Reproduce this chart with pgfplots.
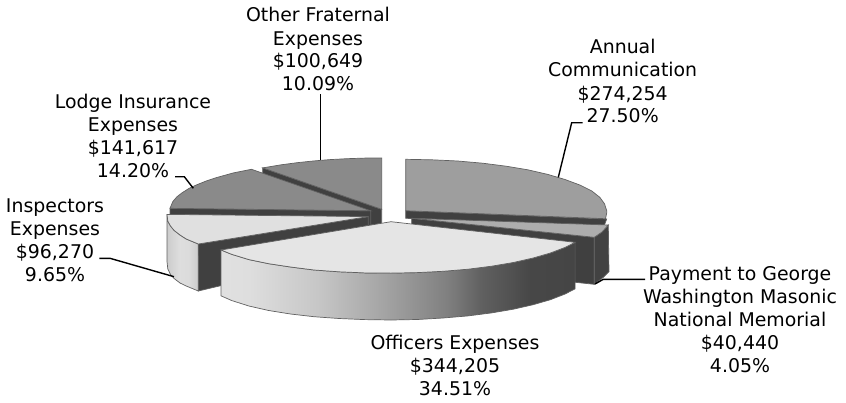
\documentclass[border=0pt]{standalone}
\usepackage{pgfplots}
\pgfplotsset{compat=1.18}
\usepackage{fontspec}
\setmainfont{DejaVu Sans}
% Horizontal ramps for the curved outer walls of the pie
\pgfdeclarehorizontalshading{officerswall}{100bp}{
  color(0bp)=(black!12); color(25bp)=(black!12); color(29bp)=(black!13);
  color(38.6bp)=(black!22); color(47.5bp)=(black!35); color(52bp)=(black!42);
  color(57bp)=(black!50); color(61.6bp)=(black!62); color(68.6bp)=(black!72);
  color(75bp)=(black!73); color(100bp)=(black!73)}
\pgfdeclarehorizontalshading{inspectorswall}{100bp}{
  color(0bp)=(black!20); color(25bp)=(black!20); color(45bp)=(black!13);
  color(60bp)=(black!14); color(75bp)=(black!20); color(100bp)=(black!20)}
\definecolor{edge}{gray}{0.38}
\definecolor{cutface}{gray}{0.25}
\tikzset{lbl/.style={anchor=base,inner sep=0pt,font=\fontsize{18.9}{22}\selectfont,text=black}}
\pgfplotsset{
  slice/.style={draw=edge,line width=0.7pt,mark=none},
  leader/.style={draw=black,line width=1.4pt,mark=none,line join=miter}
}
\begin{document}
\begin{tikzpicture}
\begin{axis}[
  scale only axis,width=846pt,height=402pt,
  xmin=0,xmax=846,ymin=0,ymax=402,y dir=reverse,
  hide axis,clip=false]

% Keep the full plotting area as the picture's extent
\path (axis cs:0,0) rectangle (axis cs:846,402);

% Other Fraternal Expenses
\addplot[slice,fill=cutface] coordinates {(262.7,167.9)(262.7,214)(381.7,255.8)(381.7,209.3)} --cycle;
\addplot[slice,fill=black!46] coordinates {(262.7,167.9)(281.2,164.8)(297,162.7)(313,161.0)(330,159.6)(346.7,158.7)(364,158.1)(381.7,158)(381.7,209.3)} --cycle;

% Lodge Insurance Expenses
\addplot[slice,fill=cutface] coordinates {(170,208.3)(170,254.8)(370.8,257.3)(370.8,210.8)} --cycle;
\addplot[slice,fill=black!46] coordinates {(170,208.3)(172.8,201.6)(176.7,197)(181.9,192.9)(188.7,188.6)(196.7,184.8)(206.2,181)(216.8,177.5)(233,173)(251.5,169.3)(370.8,210.8)} --cycle;

% Annual Communication
\addplot[slice,fill=cutface] coordinates {(405.7,210.7)(405.7,218.3)(604,226)(606.7,219)} --cycle;
\addplot[slice,fill=black!38] coordinates {(405.7,159.3)(431.9,159.8)(457.7,161)(482.7,163.2)(506.2,166.2)(527.8,169.8)(547.8,174.4)(565,179.5)(579.8,185)(591.8,191)(599.9,197.4)(604.5,203.8)(606.7,210.7)(606.7,213)(605.5,218.7)(405.7,210.7)} --cycle;

% Payment to George Washington Masonic National Memorial
\addplot[slice,fill=cutface] coordinates {(411.7,218.3)(411.7,265)(594.3,284.3)(594.3,237.3)} --cycle;
\addplot[slice,fill=black!74] coordinates {(594.3,237.3)(594.3,284.3)(603,277.5)(609,271.7)(608.3,225)(602,232)} --cycle;
\addplot[slice,fill=black!32] coordinates {(411.7,218.3)(608.3,225)(602,232)(594.3,237.3)} --cycle;

% Inspectors Expenses
\addplot[slice,fill=cutface] coordinates {(198.3,244)(198.3,291)(221.5,285.5)(368.3,261)(368.3,216.6)} --cycle;
\addplot[slice,shading=inspectorswall,shade] coordinates {(167,214.4)(167.8,221.1)(170.5,226)(174.1,230.4)(180,235)(186.2,239)(198.3,244)(198.3,291)(186.2,286)(180,283)(174.1,278.5)(170.5,274.5)(167.8,269)(167,261.4)} --cycle;
\addplot[slice,fill=black!12] coordinates {(167,214.4)(167.8,221.1)(170.5,226)(174.1,230.4)(180,235)(186.2,239)(198.3,244)(368.3,216.6)} --cycle;

% Officers Expenses
\addplot[slice,shading=officerswall,shade] coordinates {(575.1,242.3)(565.1,247.4)(550.4,253)(533.1,258)(513.3,262.5)(491.5,266.2)(468,269.2)(443,271.3)(417.2,272.6)(391,273.1)(364.8,272.9)(339,271.8)(314,270)(290.5,267)(268.7,263.7)(248.9,259.6)(231.6,254.3)(221,250)
  (221,295.8)(231.6,300.5)(248.9,306)(268.7,310.5)(290.5,314)(314,316.7)(339,318.5)(364.8,319.6)(391,320)(417.2,319.5)(443,318)(468,315.9)(491.5,312.9)(513.3,309.2)(533.1,304.7)(550.4,299.7)(565.1,294)(575.1,288.8)} --cycle;
\addplot[slice,fill=black!10] coordinates {(391,221.7)(575.1,242.3)(565.1,247.4)(550.4,253)(533.1,258)(513.3,262.5)(491.5,266.2)(468,269.2)(443,271.3)(417.2,272.6)(391,273.1)(364.8,272.9)(339,271.8)(314,270)(290.5,267)(268.7,263.7)(248.9,259.6)(231.6,254.3)(221,250)} --cycle;

% Leader lines
\addplot[leader] coordinates {(320.7,94)(320.7,160)};
\addplot[leader] coordinates {(175,176.7)(184.3,176.7)(193.3,188.3)};
\addplot[leader] coordinates {(582.7,122.7)(571.7,122.7)(558.3,177.3)};
\addplot[leader] coordinates {(99.3,258.3)(110,258.3)(174,276.7)};
\addplot[leader] coordinates {(645,279.3)(603.3,279.3)(595,284)};

% Labels, one node per line, placed on their baselines
\node[lbl] at (axis cs:318,21.7) {Other Fraternal};
\node[lbl] at (axis cs:318,45) {Expenses};
\node[lbl] at (axis cs:318,67.7) {\$100,649};
\node[lbl] at (axis cs:318,90.7) {10.09\%};

\node[lbl] at (axis cs:133,108) {Lodge Insurance};
\node[lbl] at (axis cs:133,131) {Expenses};
\node[lbl] at (axis cs:133,154) {\$141,617};
\node[lbl] at (axis cs:133,177) {14.20\%};

\node[lbl] at (axis cs:622.7,53) {Annual};
\node[lbl] at (axis cs:622.7,76.7) {Communication};
\node[lbl] at (axis cs:622.7,100) {\$274,254};
\node[lbl] at (axis cs:622.7,122.7) {27.50\%};

\node[lbl] at (axis cs:55,212) {Inspectors};
\node[lbl] at (axis cs:55,235) {Expenses};
\node[lbl] at (axis cs:55,258) {\$96,270};
\node[lbl] at (axis cs:55,281) {9.65\%};

\node[lbl] at (axis cs:740,280) {Payment to George};
\node[lbl] at (axis cs:740,303) {Washington Masonic};
\node[lbl] at (axis cs:740,326) {National Memorial};
\node[lbl] at (axis cs:740,349) {\$40,440};
\node[lbl] at (axis cs:740,372) {4.05\%};

\node[lbl] at (axis cs:455,349) {Officers Expenses};
\node[lbl] at (axis cs:455,372) {\$344,205};
\node[lbl] at (axis cs:455,395) {34.51\%};
\end{axis}
\end{tikzpicture}
\end{document}
